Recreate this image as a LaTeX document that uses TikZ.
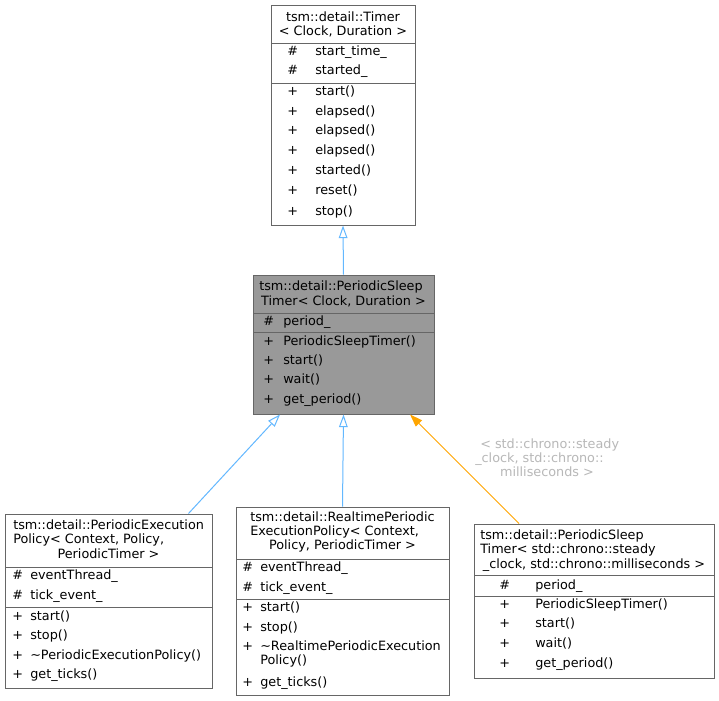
\documentclass[tikz,border=0pt]{standalone}
\usepackage{fontspec}
\setmainfont{DejaVu Sans}
\usetikzlibrary{arrows.meta,fit}
\definecolor{edgeblue}{HTML}{63B8FF}
\definecolor{edgeorange}{HTML}{FFA500}
\definecolor{boxline}{HTML}{666666}
\definecolor{boxgray}{HTML}{999999}
\definecolor{lblgray}{HTML}{B8B8B8}
\begin{document}
\begin{tikzpicture}[x=0.75pt,y=-0.75pt,
  box/.style={draw=boxline, line width=0.75pt, fill=white, inner sep=0pt},
  graybox/.style={box, fill=boxgray},
  sepline/.style={draw=boxline, line width=0.75pt},
  tl/.style={inner sep=0pt, anchor=mid west, font=\fontsize{9.6}{12}\selectfont},
  tc/.style={inner sep=0pt, anchor=mid, font=\fontsize{9.6}{12}\selectfont},
  lbl/.style={inner sep=0pt, text=lblgray, font=\fontsize{9.6}{12}\selectfont},
  inh/.style={draw=edgeblue, line width=0.75pt, -{Triangle[open, length=9.5pt, width=6.5pt]}},
  inst/.style={draw=edgeorange, line width=0.75pt, -{Triangle[length=9.5pt, width=6.5pt]}}
]
\useasboundingbox (0,0) rectangle (719,701);
\fill[white] (0,0) rectangle (719,701);

% ---------- Timer ----------
\coordinate (t1) at (271,5); \coordinate (t2) at (415,225);
\node[box, fit=(t1)(t2)] (timer) {};
\draw[sepline] (271,43) -- (415,43);
\draw[sepline] (271,83) -- (415,83);
\node[tc] (timerT1) at (343,18) {tsm::detail::Timer};
\node[tc] (timerT2) at (343,32) {< Clock, Duration >};
\node[tl] (timerS1) at (287,52) {\#}; \node[tl] (timerM1) at (315,52) {start\_time\_};
\node[tl] (timerS2) at (287,71) {\#}; \node[tl] (timerM2) at (315,71) {started\_};
\node[tl] (timerS3) at (287,92) {+}; \node[tl] (timerM3) at (315,92) {start()};
\node[tl] (timerS4) at (287,112) {+}; \node[tl] (timerM4) at (315,112) {elapsed()};
\node[tl] (timerS5) at (287,131) {+}; \node[tl] (timerM5) at (315,131) {elapsed()};
\node[tl] (timerS6) at (287,151) {+}; \node[tl] (timerM6) at (315,151) {elapsed()};
\node[tl] (timerS7) at (287,171) {+}; \node[tl] (timerM7) at (315,171) {started()};
\node[tl] (timerS8) at (287,191) {+}; \node[tl] (timerM8) at (315,191) {reset()};
\node[tl] (timerS9) at (287,212) {+}; \node[tl] (timerM9) at (315,212) {stop()};

% ---------- PeriodicSleepTimer (gray) ----------
\coordinate (p1) at (253,275); \coordinate (p2) at (434,414);
\node[graybox, fit=(p1)(p2)] (pst) {};
\draw[sepline] (253,313) -- (434,313);
\draw[sepline] (253,332) -- (434,332);
\node[tl] (pstT1) at (259,287) {tsm::detail::PeriodicSleep};
\node[tc] (pstT2) at (343.5,302) {Timer< Clock, Duration >};
\node[tl] (pstS1) at (263,322) {\#}; \node[tl] (pstM1) at (283,322) {period\_};
\node[tl] (pstS2) at (263,342) {+}; \node[tl] (pstM2) at (283,342) {PeriodicSleepTimer()};
\node[tl] (pstS3) at (263,361) {+}; \node[tl] (pstM3) at (283,361) {start()};
\node[tl] (pstS4) at (263,380) {+}; \node[tl] (pstM4) at (283,380) {wait()};
\node[tl] (pstS5) at (263,400) {+}; \node[tl] (pstM5) at (283,400) {get\_period()};

% ---------- PeriodicExecutionPolicy ----------
\coordinate (e1) at (5,514); \coordinate (e2) at (212,688);
\node[box, fit=(e1)(e2)] (pep) {};
\draw[sepline] (5,567) -- (212,567);
\draw[sepline] (5,607) -- (212,607);
\node[tl] (pepT1) at (13,526) {tsm::detail::PeriodicExecution};
\node[tl] (pepT2) at (13,540) {Policy< Context, Policy,};
\node[tc] (pepT3) at (108.5,555) {PeriodicTimer >};
\node[tl] (pepS1) at (12,576) {\#}; \node[tl] (pepM1) at (30,576) {eventThread\_};
\node[tl] (pepS2) at (12,596) {\#}; \node[tl] (pepM2) at (30,596) {tick\_event\_};
\node[tl] (pepS3) at (12,617) {+}; \node[tl] (pepM3) at (30,617) {start()};
\node[tl] (pepS4) at (12,636) {+}; \node[tl] (pepM4) at (30,636) {stop()};
\node[tl] (pepS5) at (12,656) {+}; \node[tl] (pepM5) at (30,656) {\textasciitilde PeriodicExecutionPolicy()};
\node[tl] (pepS6) at (12,675) {+}; \node[tl] (pepM6) at (30,675) {get\_ticks()};

% ---------- RealtimePeriodicExecutionPolicy ----------
\coordinate (r1) at (236,507); \coordinate (r2) at (449,695);
\node[box, fit=(r1)(r2)] (rpep) {};
\draw[sepline] (236,559) -- (449,559);
\draw[sepline] (236,599) -- (449,599);
\node[tl] (rpepT1) at (250,518) {tsm::detail::RealtimePeriodic};
\node[tl] (rpepT2) at (250,532) {ExecutionPolicy< Context,};
\node[tc] (rpepT3) at (342.5,546) {Policy, PeriodicTimer >};
\node[tl] (rpepS1) at (242,568) {\#}; \node[tl] (rpepM1) at (260,568) {eventThread\_};
\node[tl] (rpepS2) at (242,588) {\#}; \node[tl] (rpepM2) at (260,588) {tick\_event\_};
\node[tl] (rpepS3) at (242,608) {+}; \node[tl] (rpepM3) at (260,608) {start()};
\node[tl] (rpepS4) at (242,628) {+}; \node[tl] (rpepM4) at (260,628) {stop()};
\node[tl] (rpepS5) at (242,647) {+}; \node[tl] (rpepM5) at (260,647) {\textasciitilde RealtimePeriodicExecution};
\node[tl] (rpepM5b) at (260,661) {Policy()};
\node[tl] (rpepS6) at (242,683) {+}; \node[tl] (rpepM6) at (260,683) {get\_ticks()};

% ---------- PeriodicSleepTimer instantiation ----------
\coordinate (i1) at (474,524); \coordinate (i2) at (714,678);
\node[box, fit=(i1)(i2)] (inst) {};
\draw[sepline] (474,575) -- (714,575);
\draw[sepline] (474,596) -- (714,596);
\node[tl] (instT1) at (480,536) {tsm::detail::PeriodicSleep};
\node[tl] (instT2) at (480,550) {Timer< std::chrono::steady};
\node[tc] (instT3) at (594,565) {\_clock, std::chrono::milliseconds >};
\node[tl] (instS1) at (499,586) {\#}; \node[tl] (instM1) at (535,586) {period\_};
\node[tl] (instS2) at (499,605) {+}; \node[tl] (instM2) at (535,605) {PeriodicSleepTimer()};
\node[tl] (instS3) at (499,624) {+}; \node[tl] (instM3) at (535,624) {start()};
\node[tl] (instS4) at (499,644) {+}; \node[tl] (instM4) at (535,644) {wait()};
\node[tl] (instS5) at (499,664) {+}; \node[tl] (instM5) at (535,664) {get\_period()};

% ---------- connectors ----------
\draw[inh] (pst.north) -- (timer.south);
\draw[inh] ([xshift=60pt]pep.north) -- ([xshift=-47.6pt]pst.south);
\draw[inh] (rpep.north) -- (pst.south);
\draw[inst] ([xshift=-56.25pt]inst.north) -- ([xshift=49.9pt]pst.south);

% ---------- edge label ----------
\node[lbl, anchor=mid west] (lbl1) at (480,445) {< std::chrono::steady};
\node[lbl, anchor=mid west] (lbl2) at (475,459) {\_clock, std::chrono::};
\node[lbl, anchor=mid] (lbl3) at (547,473) {milliseconds >};
\end{tikzpicture}
\end{document}
